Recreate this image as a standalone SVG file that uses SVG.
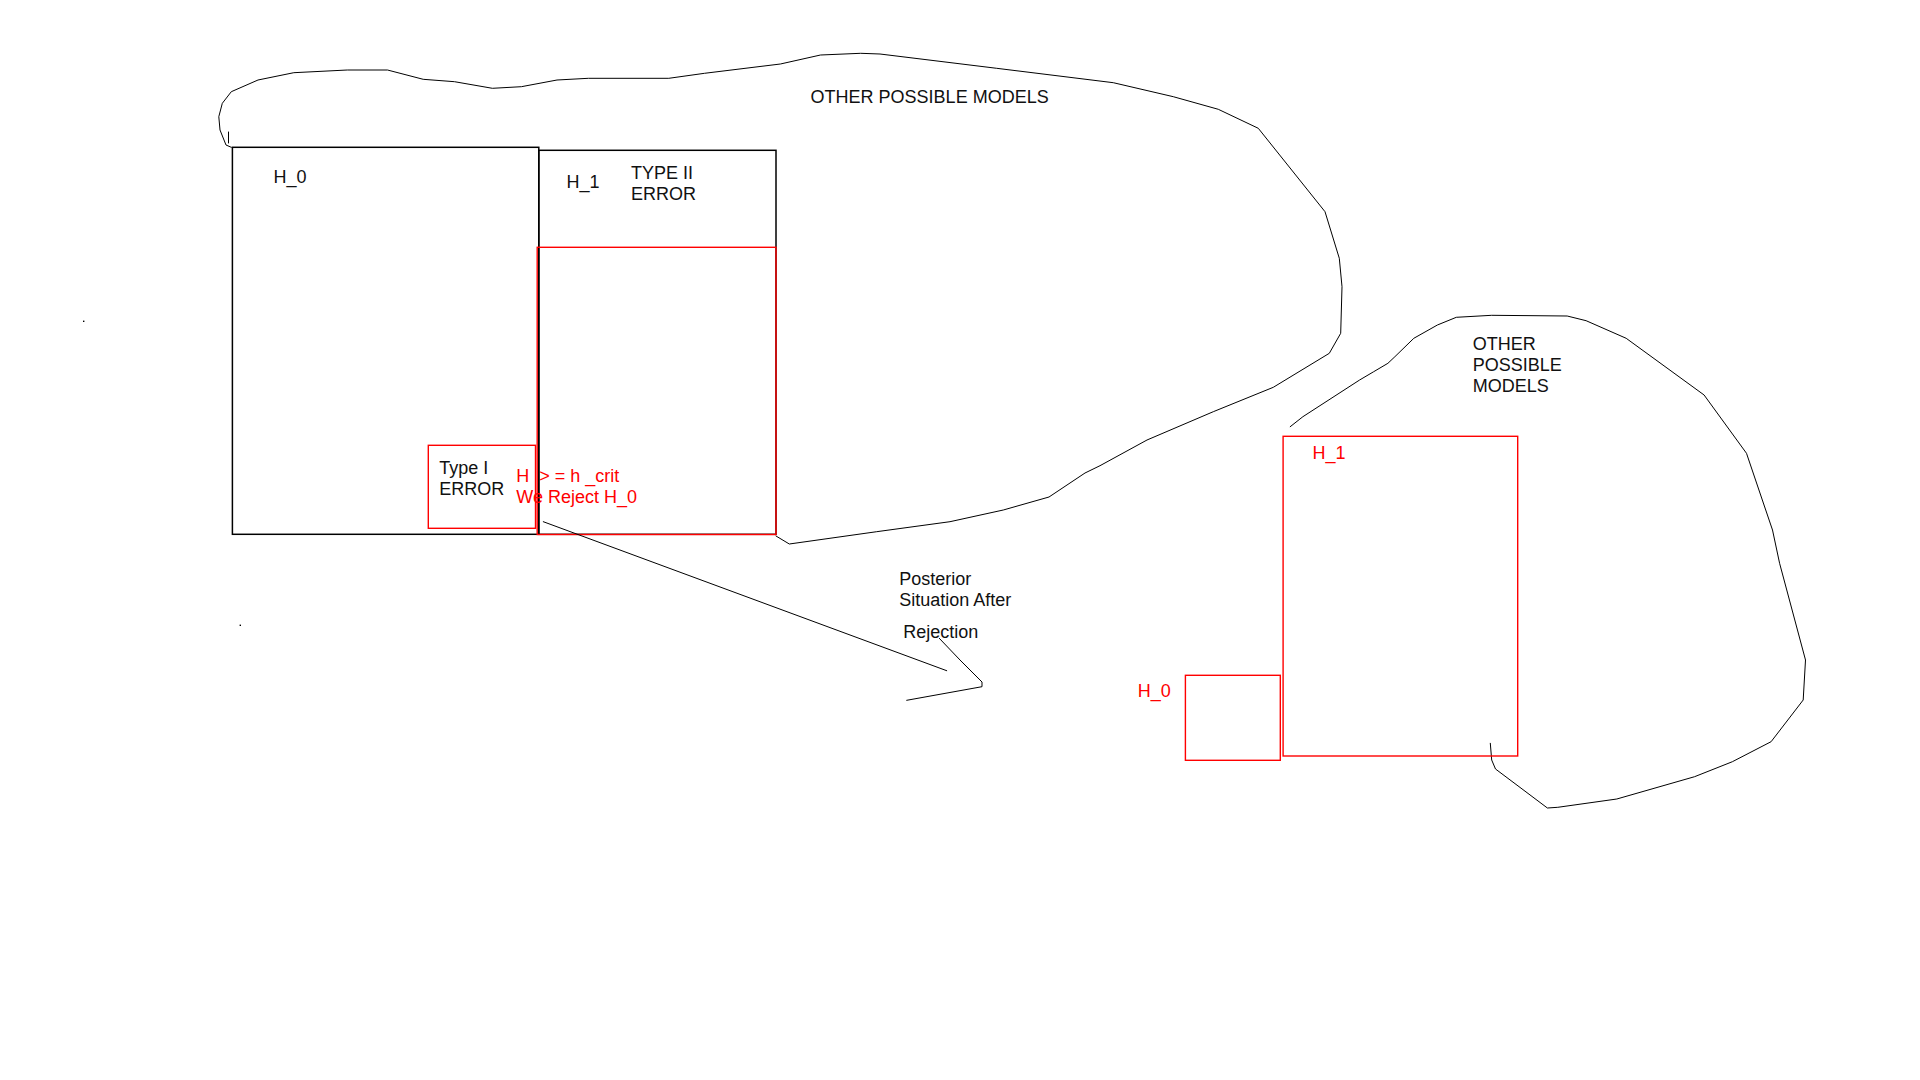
<svg xmlns="http://www.w3.org/2000/svg" width="1920" height="1080" viewBox="0 0 1920 1080">
<style>
.t{font-family:"Liberation Sans",Arial,sans-serif;font-size:18px;fill:#111;white-space:pre}
.r{fill:#ff0000}
.blk{fill:none;stroke:#000;stroke-width:1.5}
.red{fill:none;stroke:#ff0000;stroke-width:1.4}
.ln{fill:none;stroke:#000;stroke-width:1;stroke-linejoin:round;stroke-linecap:round}
</style>
<rect width="1920" height="1080" fill="#fff"/>
<g id="other-models-1">
<path class="ln" d="M228.5,132 L228.5,143"/>
<polyline class="ln" points="231.3,147.3 226,145 220,130 218.8,116.7 222.3,103.3 231.3,91.7 258,80 293.8,72.7 347.3,70 387.5,70 423.2,79.3 454.5,81.7 492.4,88.3 521.4,86.7 557,80 588.4,78.3 668.8,78.3 704.5,73.3 780.4,64 820.5,55 860.7,53.3 880,54 996.7,68.3 1113.3,82.7 1173.3,96.7 1218.3,109.3 1258.3,128.3 1325,211.7 1339.3,258.3 1342,286.7 1340.7,333.3 1329.3,353.3 1273.3,387.3 1213.3,411.7 1147,440 1100,465.7 1085,473 1049,497 1003.3,510 950,521.7 876.7,531.7 789.3,544 776,536"/>
<text class="t" x="810.6" y="103">OTHER POSSIBLE MODELS</text>
</g>
<g id="h0-prior">
<rect class="blk" x="232.4" y="147.3" width="306.4" height="387"/>
<text class="t" x="273.4" y="183.3">H_0</text>
</g>
<g id="h1-prior">
<rect class="blk" x="538.8" y="150.3" width="237.2" height="384"/>
<text class="t" x="566.4" y="187.7">H_1</text>
<text class="t" x="631.1" y="179.3">TYPE II</text>
<text class="t" x="631.1" y="200">ERROR</text>
</g>
<g id="reject-region">
<rect class="red" x="537.2" y="247.3" width="238.8" height="287.2" stroke-width="1.6"/>
</g>
<g id="type1">
<rect class="red" x="428.3" y="445.3" width="107.2" height="83"/>
<text class="t" x="439.2" y="474">Type I</text>
<text class="t" x="439.2" y="495.3">ERROR</text>
</g>
<g id="reject-label">
<text class="t r" x="516.3" y="482" xml:space="preserve">H  &gt; = h _crit</text>
<text class="t r" x="516.3" y="502.7">We Reject H_0</text>
</g>
<g id="connectors">
<line class="ln" x1="543.3" y1="521.7" x2="946.7" y2="670.7"/>
<polyline class="ln" points="939.3,638.3 960,660 982,682 982,686.7 906.7,700.3"/>
</g>
<g id="posterior-label">
<text class="t" x="899.3" y="585">Posterior</text>
<text class="t" x="899.3" y="605.7">Situation After</text>
<text class="t" x="903.3" y="637.5">Rejection</text>
</g>
<g id="other-models-2">
<polyline class="ln" points="1290.2,426.7 1302.9,416.7 1359.6,380 1373.7,371.7 1387.9,363.3 1394.9,356.7 1413.8,338.3 1437.4,325 1456.3,317.3 1491.7,315.3 1567.2,316 1586.1,320.7 1626.2,338.3 1704.1,395 1746.5,453.3 1772.5,530 1779.6,563.3 1805.5,660 1803.2,700 1771.1,741.7 1732.4,761.7 1694.6,776.7 1616.8,799 1557.8,807.3 1547.4,808 1495.5,769 1491.7,760 1490.3,743.3"/>
<text class="t" x="1472.8" y="350">OTHER</text>
<text class="t" x="1472.8" y="370.7">POSSIBLE</text>
<text class="t" x="1472.8" y="391.7">MODELS</text>
</g>
<g id="h1-posterior">
<rect class="red" x="1283.1" y="436.3" width="234.6" height="319.7"/>
<text class="t r" x="1312.4" y="459">H_1</text>
</g>
<g id="h0-posterior">
<rect class="red" x="1185.4" y="675.3" width="94.9" height="85"/>
<text class="t r" x="1137.8" y="696.7">H_0</text>
</g>
<g id="specks">
<rect x="83" y="320.6" width="1.4" height="1.4" fill="#000"/>
<rect x="239.6" y="624.6" width="1.4" height="1.4" fill="#000"/>
</g>
</svg>
